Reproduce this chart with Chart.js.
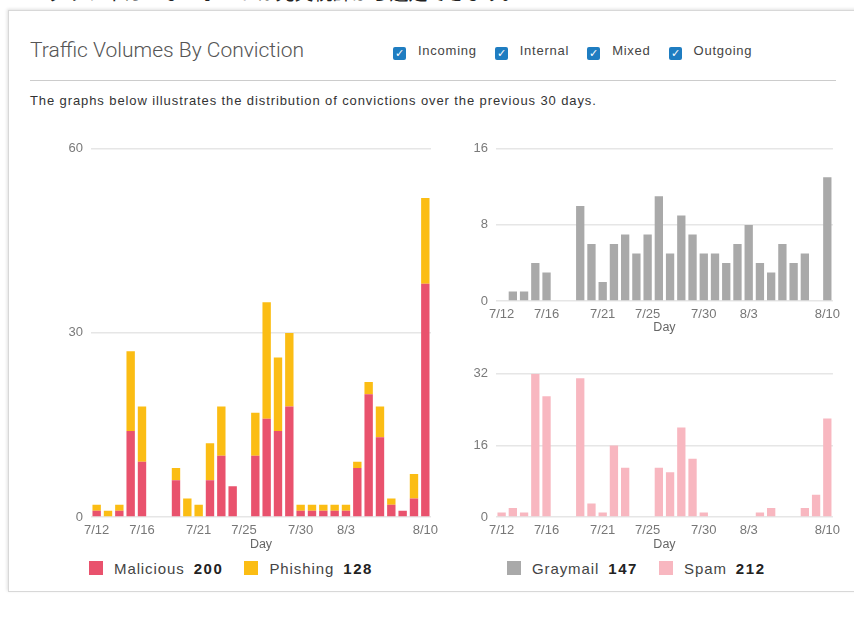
<!DOCTYPE html>
<html>
<head>
<meta charset="utf-8">
<script src="https://cdn.jsdelivr.net/npm/chart.js@4"></script>
<style>
  body { margin: 0; width: 854px; height: 619px; overflow: hidden; background: #fff; font-family: "Liberation Sans", Arial, sans-serif; position: relative; }
  .jp { position: absolute; left: 48px; top: -22px; font-family: "Noto Sans CJK JP"; font-size: 19px; color: #222; white-space: nowrap; }
  .card { position: absolute; left: 8px; top: 10px; width: 900px; height: 580px; border: 1px solid #d8d8d8; box-shadow: -1px -1px 3px rgba(0,0,0,0.12); background: #fff; }
  .title { position: absolute; left: 30px; top: 38px; font-family: Roboto; font-weight: 300; font-size: 21px; color: #555; }
  .checks { position: absolute; left: 393px; top: 43px; font-size: 13px; letter-spacing: 0.75px; color: #444; line-height: 16px; }
  .checks span { display: inline-block; margin-right: 18px; vertical-align: middle; }
  .checks i { display: inline-block; width: 13px; height: 13px; background: #1f7dc1; border-radius: 2px; color: #fff; font-style: normal; font-size: 11px; line-height: 13px; text-align: center; vertical-align: -2px; margin-right: 12px; letter-spacing: 0; }
  .rule { position: absolute; left: 30px; top: 80px; width: 806px; height: 1px; background: #ccc; }
  .desc { position: absolute; left: 30px; top: 93px; font-size: 13px; letter-spacing: 0.9px; color: #333; }
  .box { position: absolute; }
  .legend { position: absolute; font-size: 15px; letter-spacing: 0.9px; color: #444; }
  .legend span { display: inline-block; vertical-align: middle; }
  .legend .sw { width: 14px; height: 14px; margin-right: 11px; }
  .legend b { display: inline-block; vertical-align: middle; font-size: 15px; color: #222; margin-left: 9px; margin-right: 21px; letter-spacing: 1.6px; }
</style>
</head>
<body>
<div class="jp">グラフィカルなレポートは充実統計から選定できます。</div>
<div class="card"></div>
<div class="title">Traffic Volumes By Conviction</div>
<div class="checks">
  <span><i>✓</i>Incoming</span><span><i>✓</i>Internal</span><span><i>✓</i>Mixed</span><span><i>✓</i>Outgoing</span>
</div>
<div class="rule"></div>
<div class="desc">The graphs below illustrates the distribution of convictions over the previous 30 days.</div>

<div class="box" style="left:60px; top:133px; width:384px; height:419px;"><canvas id="chart1"></canvas></div>
<div class="box" style="left:470px; top:133px; width:376px; height:202px;"><canvas id="chart2"></canvas></div>
<div class="box" style="left:470px; top:358px; width:376px; height:194px;"><canvas id="chart3"></canvas></div>

<div class="legend" id="legend1" style="left:89px; top:558px;"></div>
<div class="legend" id="legend2" style="left:507px; top:558px;"></div>

<script>
const days = ['7/12','7/13','7/14','7/15','7/16','7/17','7/18','7/19','7/20','7/21',
              '7/22','7/23','7/24','7/25','7/26','7/27','7/28','7/29','7/30','7/31',
              '8/1','8/2','8/3','8/4','8/5','8/6','8/7','8/8','8/9','8/10'];
const shownDays = ['7/12','7/16','7/21','7/25','7/30','8/3','8/10'];

const malicious = [1,0,1,14,9,0,0,6,0,0,6,10,5,0,10,16,14,18,1,1,1,1,1,8,20,13,2,1,3,38];
const phishing  = [1,1,1,13,9,0,0,2,3,2,6,8,0,0,7,19,12,12,1,1,1,1,1,1,2,5,1,0,4,14];
const graymail  = [0,1,1,4,3,0,0,10,6,2,6,7,5,7,11,5,9,7,5,5,4,6,8,4,3,6,4,5,0,13];
const spam      = [1,2,1,32,27,0,0,31,3,1,16,11,0,0,11,10,20,13,1,0,0,0,0,1,2,0,0,2,5,22];

const colors = { malicious: '#e9526d', phishing: '#fbbd14', graymail: '#a9a9a9', spam: '#f8b7c0' };

function sum(a) { return a.reduce((s, v) => s + v, 0); }

function makeChart(id, datasets, yMax, yStep, yWidth, xHeight, stacked) {
    const ctx = document.getElementById(id).getContext('2d');
    return new Chart(ctx, {
        type: 'bar',
        data: { labels: days, datasets: datasets },
        options: {
            responsive: true,
            maintainAspectRatio: false,
            animation: false,
            layout: { padding: { top: 1, right: 2 } },
            plugins: { legend: { display: false }, tooltip: { enabled: false } },
            datasets: { bar: { categoryPercentage: 1, barPercentage: 0.74 } },
            scales: {
                x: {
                    stacked: stacked,
                    grid: { display: false, drawTicks: false },
                    border: { display: false },
                    afterFit: s => { s.height = xHeight; },
                    ticks: {
                        autoSkip: false, maxRotation: 0, padding: 6,
                        color: '#777', font: { size: 13, family: 'Liberation Sans' },
                        callback: (v, i) => shownDays.includes(days[i]) ? days[i] : ''
                    },
                    title: { display: true, text: 'Day', color: '#666', padding: 0, font: { size: 12.5, family: 'Liberation Sans' } }
                },
                y: {
                    stacked: stacked,
                    min: 0, max: yMax,
                    grid: { color: '#e6e6e6', drawTicks: false, lineWidth: 1.5 },
                    border: { display: false },
                    afterFit: s => { s.width = yWidth; },
                    ticks: { stepSize: yStep, padding: 8, color: '#7a7a7a', font: { size: 13, family: 'Liberation Sans' } }
                }
            }
        }
    });
}

const chart1 = makeChart('chart1', [
    { label: 'Malicious', data: malicious, backgroundColor: colors.malicious },
    { label: 'Phishing', data: phishing, backgroundColor: colors.phishing }
], 60, 30, 31, 35, true);

const chart2 = makeChart('chart2', [
    { label: 'Graymail', data: graymail, backgroundColor: colors.graymail }
], 16, 8, 26, 34, false);

const chart3 = makeChart('chart3', [
    { label: 'Spam', data: spam, backgroundColor: colors.spam }
], 32, 16, 26, 35, false);

function legendHtml(items) {
    return items.map(it =>
        '<span class="sw" style="background:' + it.color + '"></span><span>' + it.name + '</span><b>' + sum(it.data) + '</b>'
    ).join('');
}
document.getElementById('legend1').innerHTML = legendHtml([
    { name: 'Malicious', data: malicious, color: colors.malicious },
    { name: 'Phishing', data: phishing, color: colors.phishing }
]);
document.getElementById('legend2').innerHTML = legendHtml([
    { name: 'Graymail', data: graymail, color: colors.graymail },
    { name: 'Spam', data: spam, color: colors.spam }
]);
</script>
</body>
</html>
